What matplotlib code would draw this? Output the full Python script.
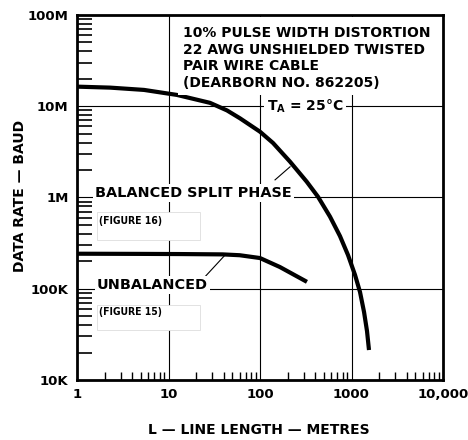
import matplotlib
matplotlib.use("Agg")
import matplotlib.pyplot as plt
import matplotlib.ticker as mticker
from matplotlib.patches import Rectangle

plt.rcParams['font.family'] = ['DejaVu Sans']

# Data
bal_len = [1, 2.3, 5.4, 12.4, 28.4, 43.6, 60.4, 100, 138.7, 212.8, 324, 430, 582, 748, 916,
           1092, 1239, 1371, 1477, 1553]
bal_rate = [16.4e6, 16.0e6, 15.1e6, 13.3e6, 10.9e6, 9.0e6, 7.38e6, 5.26e6, 3.96e6, 2.47e6,
            1.49e6, 1.02e6, 617e3, 378e3, 234e3, 142e3, 92e3, 55.6e3, 34.4e3, 21.3e3]
unb_len = [1, 5, 13.4, 39, 60, 100, 165, 326]
unb_rate = [242e3, 241e3, 240e3, 238e3, 233e3, 217e3, 173e3, 119e3]

x_ticks = [1, 10, 100, 1000, 10000]
x_labels = ["1", "10", "100", "1000", "10,000"]
y_ticks = [1e4, 1e5, 1e6, 1e7, 1e8]
y_labels = ["10K", "100K", "1M", "10M", "100M"]

W, H = 468, 440
fig = plt.figure(figsize=(4.68, 4.40), dpi=100)
ax = fig.add_axes([77/W, 1-380/H, (443-77)/W, (380-15)/H])
ax.set_xscale('log')
ax.set_yscale('log')
ax.set_xlim(1, 10000)
ax.set_ylim(1e4, 1e8)


def fp(x, y):
    return (x / W, 1 - y / H)


# grid lines
for gx in [10, 100, 1000]:
    ax.axvline(gx, color='black', lw=0.8, zorder=1)
for gy in [1e5, 1e6, 1e7]:
    ax.axhline(gy, color='black', lw=0.8, zorder=1)

# white area behind the title block
fig.patches.append(Rectangle(fp(178, 95), (441-178)/W, (95-17)/H, transform=fig.transFigure,
                             facecolor='white', edgecolor='none', zorder=1.5))

ax.plot(bal_len, bal_rate, color='black', lw=3.0, solid_capstyle='butt',
        solid_joinstyle='round', zorder=3)
ax.plot(unb_len, unb_rate, color='black', lw=3.0, solid_capstyle='butt',
        solid_joinstyle='round', zorder=3)

ax.set_xticks(x_ticks)
ax.set_xticklabels(x_labels, fontweight='bold', fontsize=9.5)
ax.set_yticks(y_ticks)
ax.set_yticklabels(y_labels, fontweight='bold', fontsize=9.5)
ax.tick_params(axis='both', which='major', length=0, pad=6)
ax.tick_params(axis='y', which='minor', direction='in', length=11, width=1.2, left=True, right=False)
ax.tick_params(axis='x', which='minor', direction='in', length=6, width=1.0, bottom=True, top=False)
ax.xaxis.set_minor_formatter(mticker.NullFormatter())
ax.yaxis.set_minor_formatter(mticker.NullFormatter())
for s in ax.spines.values():
    s.set_linewidth(2.0)
    s.set_zorder(2.5)

# title block
title_lines = ["10% PULSE WIDTH DISTORTION", "22 AWG UNSHIELDED TWISTED",
               "PAIR WIRE CABLE", "(DEARBORN NO. 862205)"]
for i, line in enumerate(title_lines):
    fig.text(*fp(183, 33 + i * 16.7), line, ha='left', va='center', fontsize=10,
             fontweight='bold', zorder=5)

fig.text(*fp(305, 106), r"T$_\mathregular{A}$ = 25°C", ha='center', va='center', fontsize=10,
         fontweight='bold', zorder=5,
         bbox=dict(facecolor='white', edgecolor='none', pad=2))

bbox = dict(facecolor='white', edgecolor='none', pad=1.5)
fig.text(*fp(95, 193), "BALANCED SPLIT PHASE", ha='left', va='center', fontsize=10.4,
         fontweight='bold', bbox=bbox, zorder=5)
fig.text(*fp(97, 285), "UNBALANCED", ha='left', va='center', fontsize=10.4,
         fontweight='bold', bbox=bbox, zorder=5)

# leader lines
ax.plot([146, 213], [1.56e6, 2.17e6], color='black', lw=0.8, zorder=3)
ax.plot([25, 41.5], [135e3, 234e3], color='black', lw=0.8, zorder=3)

# pasted-over figure references
for (ry, rh, new, ny) in [(212, 28, "(FIGURE 16)", 221), (305, 25, "(FIGURE 15)", 312)]:
    fig.patches.append(Rectangle(fp(97, ry + rh), (200-97)/W, rh/H, transform=fig.transFigure,
                                 facecolor='white', edgecolor='#dddddd', lw=0.6, zorder=6))
    fig.text(*fp(99, ny), new, ha='left', va='center', fontsize=7.5, fontweight='bold',
             family=['Liberation Sans Narrow', 'DejaVu Sans'], fontstretch='condensed', zorder=7)

fig.text(*fp(20, 196), "DATA RATE — BAUD", rotation=90, ha='center', va='center',
         fontsize=10, fontweight='bold')
fig.text(*fp(259, 430), "L — LINE LENGTH — METRES", ha='center', va='center',
         fontsize=10, fontweight='bold')

fig.savefig("out.png", dpi=100)
